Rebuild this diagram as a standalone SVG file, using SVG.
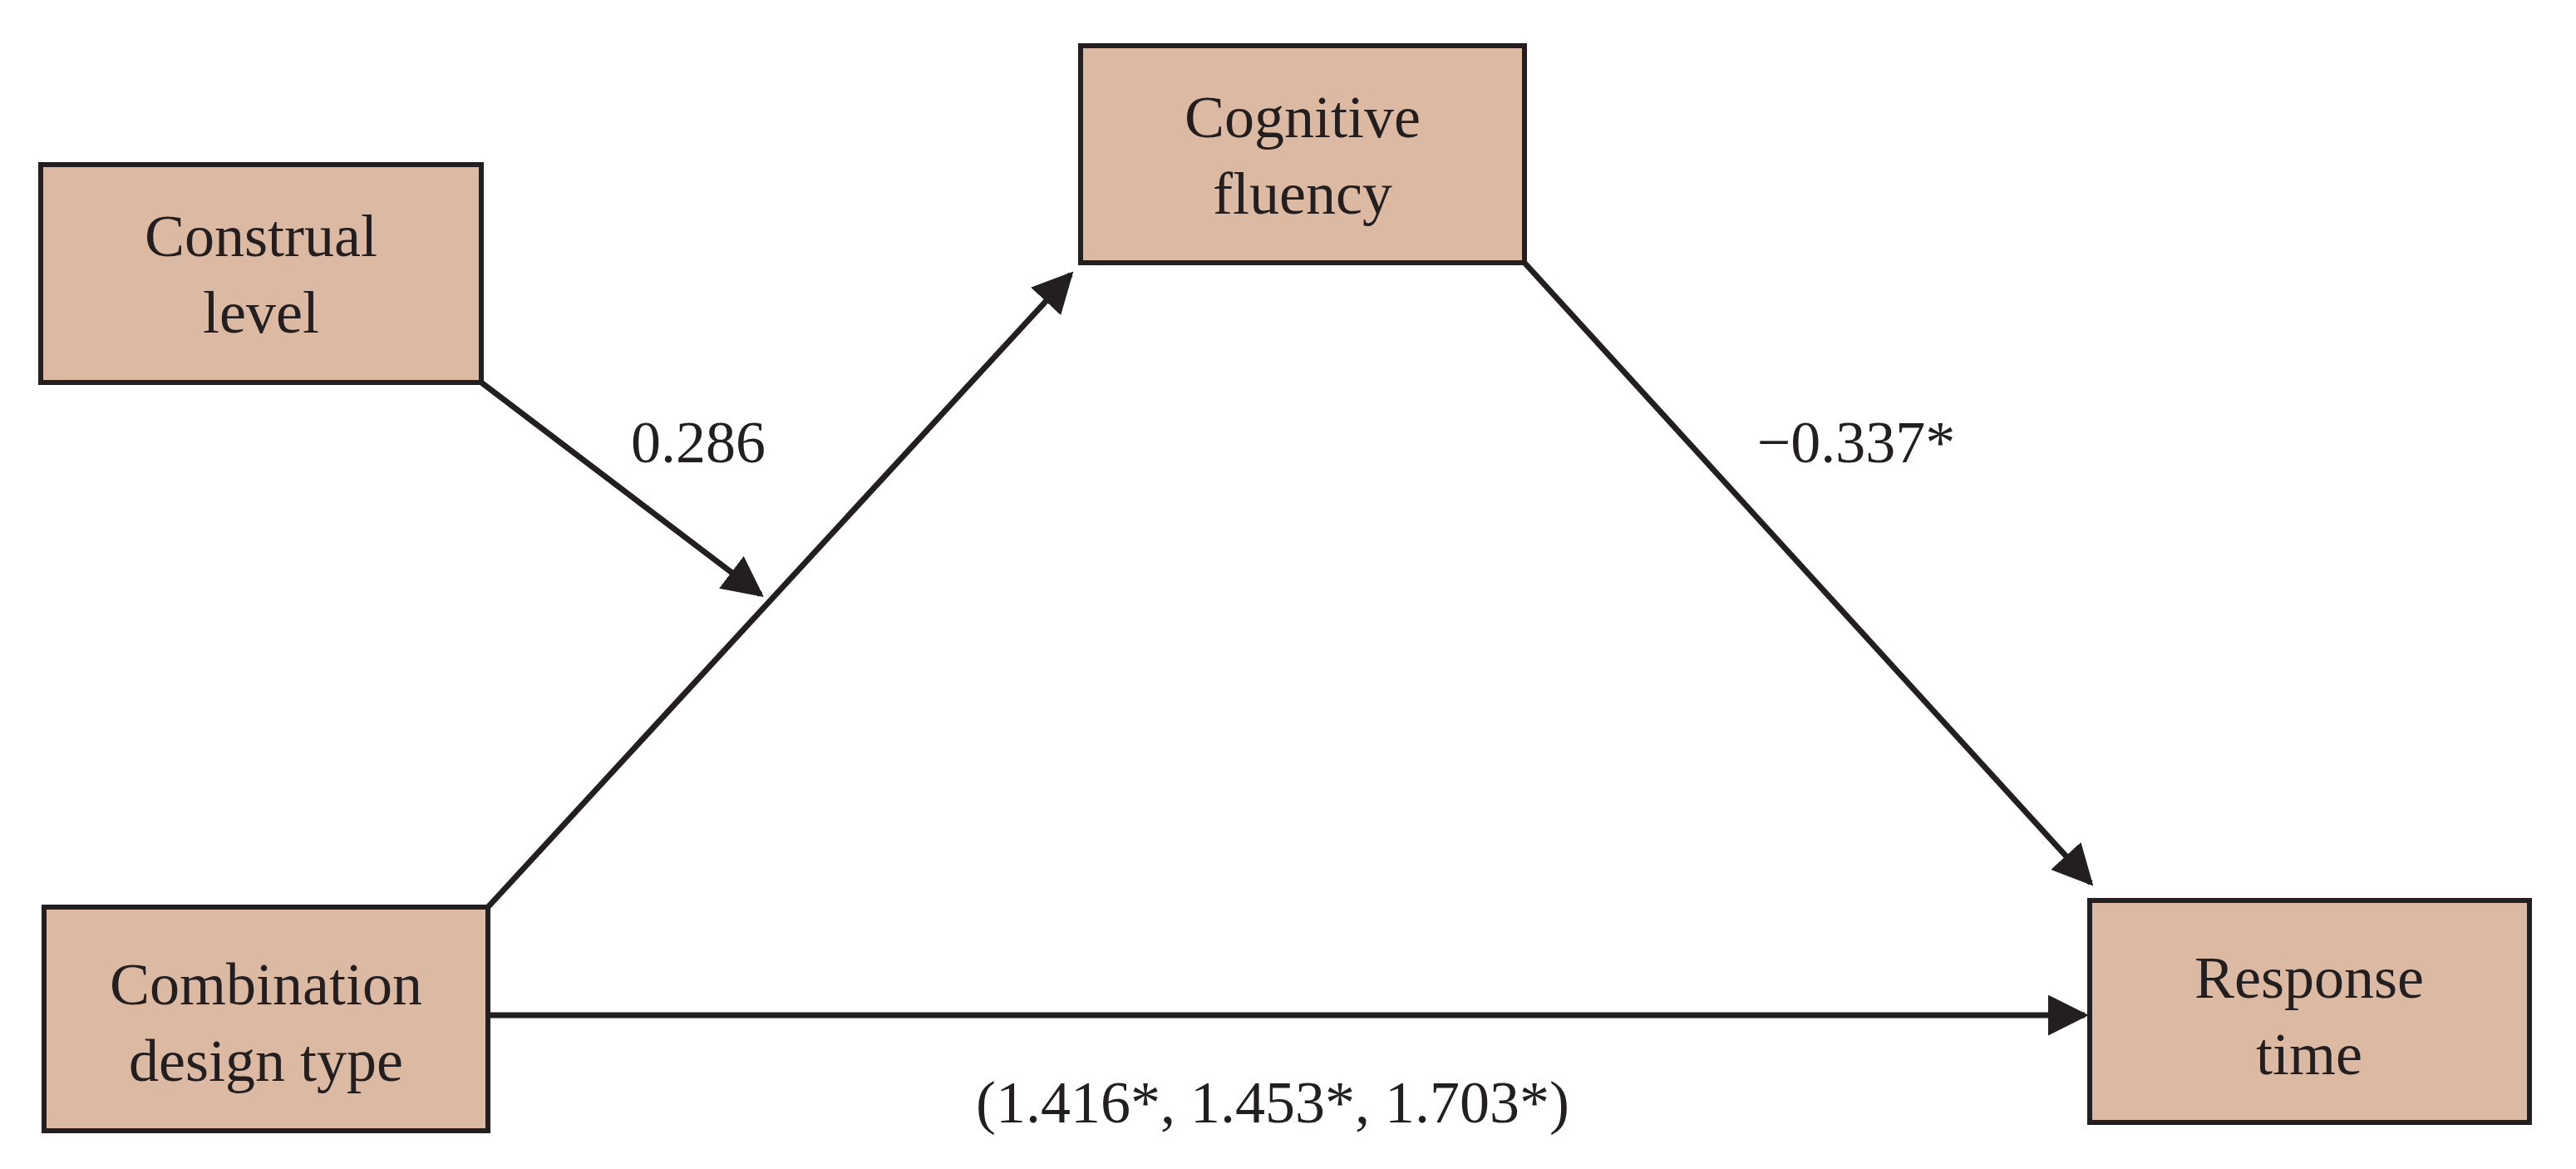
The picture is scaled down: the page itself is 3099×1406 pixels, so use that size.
<svg xmlns="http://www.w3.org/2000/svg" width="3099" height="1406" viewBox="0 0 3099 1406">
<style>
.box{fill:#dcb9a3;stroke:#231f20;stroke-width:6}
text{font-family:"Liberation Serif",serif;font-size:72px;fill:#231f20;text-anchor:middle}
.c{stroke:#231f20;stroke-width:7;fill:none;marker-end:url(#ah)}
</style>
<defs><marker id="ah" viewBox="0 0 10 10" refX="9" refY="5" markerWidth="7" markerHeight="7" markerUnits="strokeWidth" orient="auto"><path d="M0,0L10,5L0,10z" fill="#231f20"/></marker></defs>
<rect width="3099" height="1406" fill="#fff"/>
<g id="connectors">
<line class="c" x1="579" y1="460" x2="915" y2="715"/>
<line class="c" x1="587" y1="1091" x2="1288" y2="330"/>
<line class="c" x1="1834" y1="316" x2="2515" y2="1062"/>
<line class="c" x1="587" y1="1221" x2="2508" y2="1221"/>
<text x="840" y="556">0.286</text>
<text x="2233" y="556">−0.337*</text>
<text x="1531" y="1350">(1.416*, 1.453*, 1.703*)</text>
</g>
<g id="construal"><rect class="box" x="49" y="198" width="530" height="262"/><text x="314" y="308">Construal</text><text x="314" y="400">level</text></g>
<g id="cognitive"><rect class="box" x="1300" y="55" width="534" height="261"/><text x="1567" y="165">Cognitive</text><text x="1567" y="257">fluency</text></g>
<g id="combination"><rect class="box" x="53" y="1091" width="534" height="269"/><text x="320" y="1208">Combination</text><text x="320" y="1300">design type</text></g>
<g id="response"><rect class="box" x="2514" y="1083" width="529" height="267"/><text x="2778" y="1200">Response</text><text x="2778" y="1292">time</text></g>
</svg>
